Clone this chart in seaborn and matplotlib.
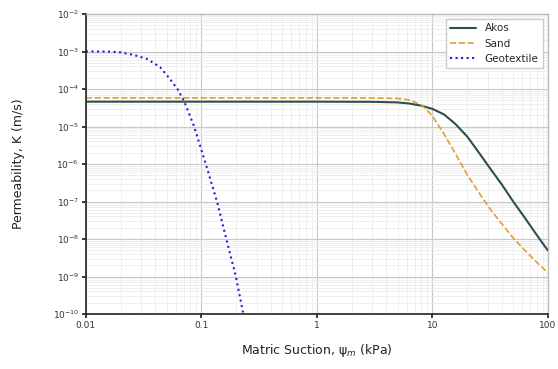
import numpy as np
import pandas as pd
import matplotlib
matplotlib.use("Agg")
import matplotlib.pyplot as plt
import matplotlib.ticker as mticker
import seaborn as sns

# Matric suction (kPa) and permeability (m/s)
akos_x = [0.01, 0.1, 1, 3, 5, 6.3, 8, 10, 12.6, 15.8, 20, 25, 31.6, 40, 50, 63, 79, 100]
akos_k = [4.6e-5, 4.6e-5, 4.6e-5, 4.55e-5, 4.4e-5, 4.1e-5, 3.6e-5, 2.95e-5, 2.1e-5,
          1.17e-5, 5.4e-6, 2.1e-6, 7.6e-7, 2.8e-7, 1.0e-7, 3.7e-8, 1.35e-8, 4.9e-9]

sand_x = [0.01, 0.1, 1, 3, 5, 6.3, 8, 8.9, 10, 12.6, 15.8, 20, 25, 31.6, 40, 50, 63, 79, 100]
sand_k = [5.8e-5, 5.8e-5, 5.8e-5, 5.75e-5, 5.6e-5, 5.1e-5, 3.8e-5, 2.8e-5, 1.9e-5,
          6.3e-6, 1.9e-6, 5.2e-7, 1.8e-7, 6.3e-8, 2.5e-8, 1.07e-8, 5.0e-9, 2.5e-9, 1.25e-9]

geo_x = [0.01, 0.0126, 0.017, 0.02, 0.026, 0.034, 0.044, 0.053, 0.062, 0.071, 0.086, 0.108,
         0.137, 0.167, 0.198, 0.226, 0.235]
geo_k = [1.0e-3, 1.0e-3, 9.9e-4, 9.5e-4, 8.1e-4, 6.3e-4, 3.8e-4, 1.9e-4, 1.0e-4, 4.6e-5,
         1.05e-5, 1.1e-6, 9.5e-8, 8.1e-9, 1.05e-9, 1.35e-10, 7e-11]

series_names = ["Akos", "Sand", "Geotextile"]
xticks = [0.01, 0.1, 1, 10, 100]
xtick_labels = ["0.01", "0.1", "1", "10", "100"]

sns.set_theme(style="whitegrid")
plt.rcParams['font.family'] = ['DejaVu Sans']

fig = plt.figure(figsize=(5.58, 3.69), dpi=100)
ax = fig.add_axes([0.154, 0.149, 0.828, 0.813])

df_a = pd.DataFrame({"x": akos_x, "k": akos_k})
df_s = pd.DataFrame({"x": sand_x, "k": sand_k})
df_g = pd.DataFrame({"x": geo_x, "k": geo_k})

sns.lineplot(data=df_a, x="x", y="k", ax=ax, color="#2f4f4f", lw=1.5, label=series_names[0])
sns.lineplot(data=df_s, x="x", y="k", ax=ax, color="#e0a030", lw=1.2, linestyle="--", label=series_names[1])
sns.lineplot(data=df_g, x="x", y="k", ax=ax, color="#2020d0", lw=1.5, linestyle=":", label=series_names[2])

ax.set_xscale("log")
ax.set_yscale("log")
ax.set_xlim(0.01, 100)
ax.set_ylim(1e-10, 1e-2)
ax.set_xticks(xticks)
ax.set_xticklabels(xtick_labels)
ax.yaxis.set_major_locator(mticker.LogLocator(base=10, numticks=20))
ax.yaxis.set_minor_locator(mticker.LogLocator(base=10, subs=np.arange(2, 10), numticks=100))
ax.xaxis.set_minor_locator(mticker.LogLocator(base=10, subs=np.arange(2, 10), numticks=100))
ax.yaxis.set_minor_formatter(mticker.NullFormatter())
ax.xaxis.set_minor_formatter(mticker.NullFormatter())

ax.grid(True, which="major", color="#c8c8c8", lw=0.8)
ax.grid(True, which="minor", color="#ececec", lw=0.6)

for s in ["left", "bottom"]:
    ax.spines[s].set_color("#222222")
    ax.spines[s].set_linewidth(1.2)
for s in ["top", "right"]:
    ax.spines[s].set_color("#bbbbbb")
    ax.spines[s].set_linewidth(1.0)

ax.tick_params(axis="both", which="major", labelsize=6.5, length=3, color="#222222",
               left=True, bottom=True, pad=2, labelcolor="#333333")
ax.tick_params(axis="both", which="minor", length=0)

ax.set_xlabel("Matric Suction, ψ$_m$ (kPa)", fontsize=9, labelpad=9, color="#222222")
ax.set_ylabel("Permeability, K (m/s)", fontsize=9, labelpad=20, color="#222222")

leg = ax.legend(loc="upper right", fontsize=7.5, frameon=True, framealpha=1,
                edgecolor="#cccccc", fancybox=False, handlelength=2.5)

fig.savefig("out.png", dpi=100)
